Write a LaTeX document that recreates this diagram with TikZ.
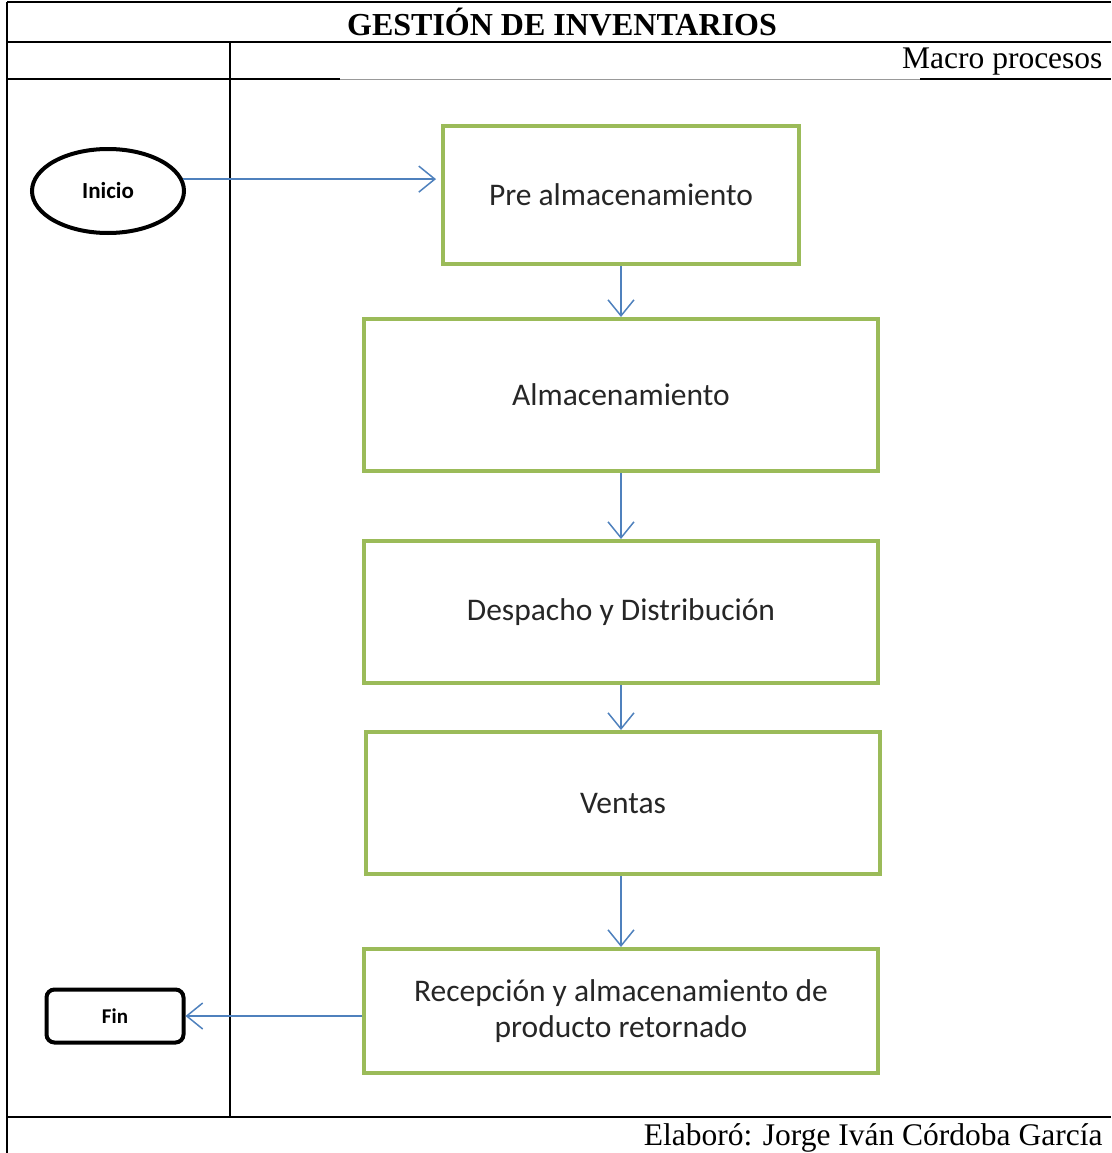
\documentclass[tikz,border=0pt]{standalone}
\usepackage{fontspec}
\setmainfont{Liberation Serif}
\newfontfamily\carlito{Carlito}
\usetikzlibrary{arrows.meta, positioning, shapes.geometric}
\definecolor{boxgreen}{HTML}{9BBB59}
\definecolor{flowblue}{HTML}{4F81BD}

\begin{document}
\begin{tikzpicture}[x=1pt, y=-1pt,
    frame/.style={line width=1.6pt},
    proc/.style={draw=boxgreen, line width=4pt, minimum width=514pt, text=black!85,
        font=\carlito\fontsize{31.5}{36}\selectfont, align=center},
    flow/.style={draw=flowblue, line width=1.5pt, -{Straight Barb[length=16pt,width=26pt]}},
    term/.style={draw, line width=4pt, font=\carlito\bfseries\fontsize{21}{24}\selectfont}]
    \useasboundingbox (0,0) rectangle (1111,1153);

    \draw[frame] (7,2) -- (1111,2);
    \draw[frame] (7,42) -- (1111,42);
    \draw[frame] (7,2) -- (7,1153);
    \draw[frame] (230,42) -- (230,1117);
    \draw[frame] (7,79) -- (340,79);
    \draw[line width=0.6pt, black!40] (340,79) -- (920,79);
    \draw[frame] (920,79) -- (1111,79);
    \draw[frame] (7,1117) -- (1111,1117);

    \node[font=\bfseries\fontsize{32}{34}\selectfont] (title) at (562,22) {GESTIÓN DE INVENTARIOS};
    \node[anchor=east, font=\fontsize{31.5}{34}\selectfont] (macro) at (1106,62) {Macro procesos};
    \node[anchor=east, font=\fontsize{31.5}{34}\selectfont] (autor) at (1106,1138) {Elaboró: Jorge Iván Córdoba García};

    \node[proc, minimum width=356pt, minimum height=138pt] (pre) at (621,195) {Pre almacenamiento};
    \node[proc, minimum height=152pt] (alm) at (621,395) {Almacenamiento};
    \node[proc, minimum height=142pt] (desp) at (621,612) {Despacho y Distribución};
    \node[proc, minimum height=142pt] (ventas) at (623,803) {Ventas};
    \node[proc, minimum height=124pt] (recep) at (621,1011) {Recepción y almacenamiento de\\producto retornado};

    \node[term, ellipse, minimum width=152pt, minimum height=84pt, font=\carlito\bfseries\fontsize{23}{26}\selectfont] (inicio) at (108,191) {Inicio};
    \node[term, rounded corners=8pt, minimum width=137pt, minimum height=53pt] (fin) at (115,1016) {Fin};

    \draw[flow, shorten >=5pt] (inicio.9) -- (inicio.9 -| pre.west);
    \draw[flow] (pre.south) -- (pre.south |- alm.north);
    \draw[flow] (alm.south) -- (desp.north);
    \draw[flow] (desp.south) -- (desp.south |- ventas.north);
    \draw[flow] (ventas.south -| recep.north) -- (recep.north);
    \draw[flow] (recep.west |- fin.east) -- (fin.east);
\end{tikzpicture}
\end{document}
